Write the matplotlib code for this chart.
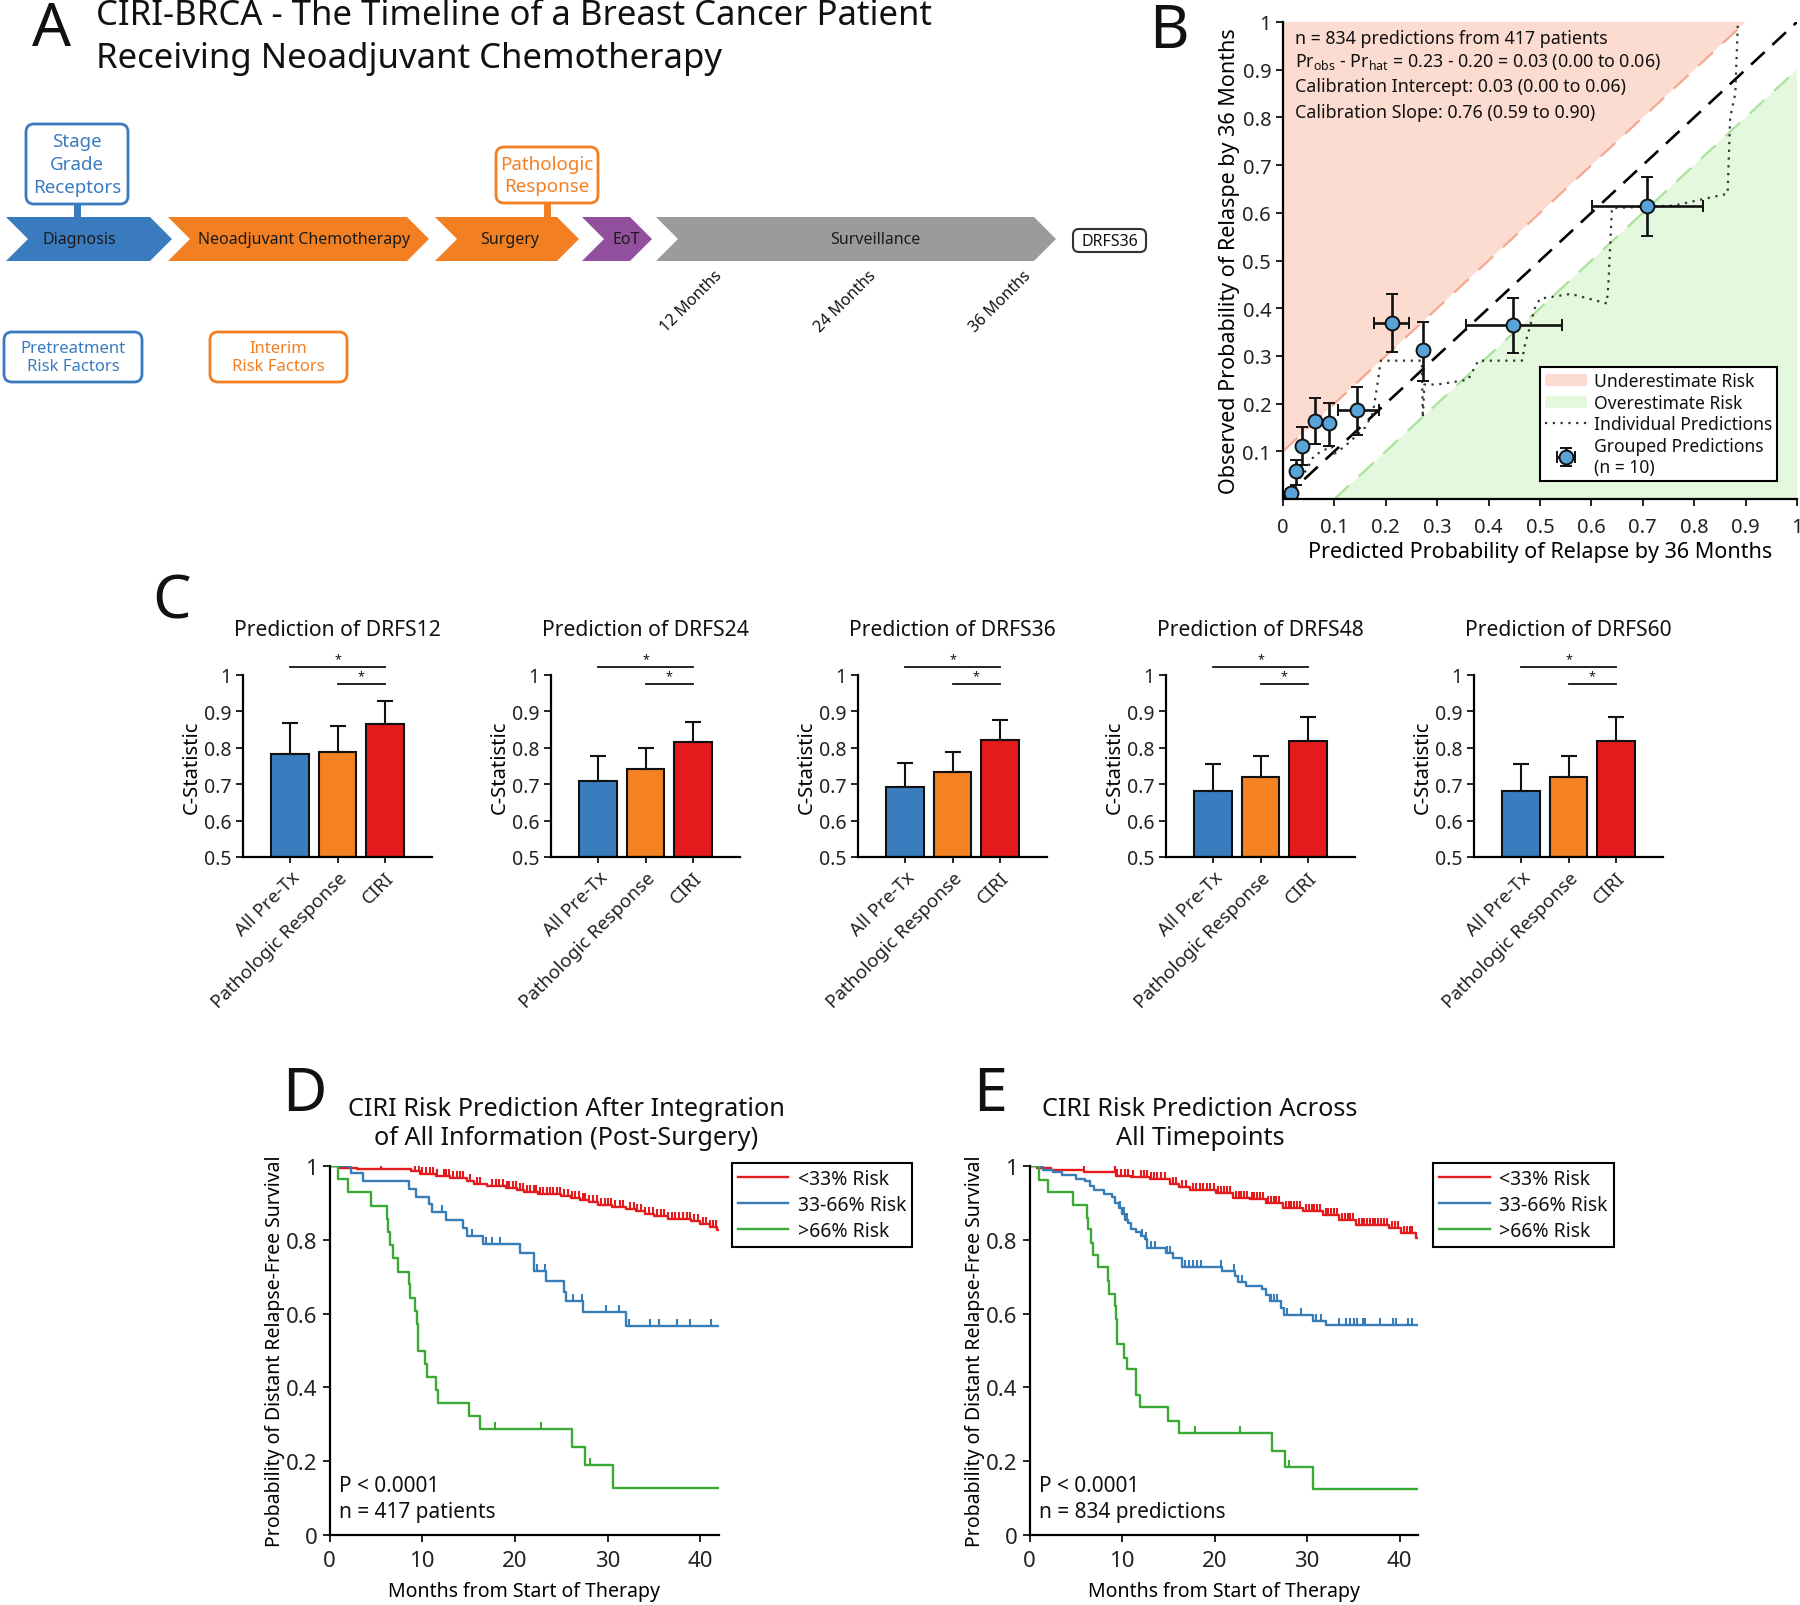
import numpy as np
import matplotlib.pyplot as plt
from matplotlib.patches import Polygon, FancyBboxPatch
from matplotlib.path import Path

plt.rcParams['font.family'] = ['Noto Sans', 'DejaVu Sans']
plt.rcParams['mathtext.fontset'] = 'custom'
plt.rcParams['mathtext.rm'] = 'Noto Sans'
plt.rcParams['axes.linewidth'] = 1.6
plt.rcParams['xtick.direction'] = 'out'
plt.rcParams['ytick.direction'] = 'out'
plt.rcParams['xtick.major.width'] = 1.4
plt.rcParams['ytick.major.width'] = 1.4
plt.rcParams['text.color'] = '#111111'

# ---------------- data ----------------
# panel A
stages = ['Diagnosis', 'Neoadjuvant Chemotherapy', 'Surgery', 'EoT', 'Surveillance']
stage_colors = ['#3a7bbf', '#f27f22', '#f27f22', '#924f9e', '#9b9b9b']
month_labels = ['12 Months', '24 Months', '36 Months']

# panel B
grp_x = [0.015, 0.026, 0.036, 0.062, 0.089, 0.144, 0.212, 0.272, 0.448, 0.709]
grp_y = [0.013, 0.058, 0.112, 0.164, 0.159, 0.186, 0.370, 0.312, 0.365, 0.614]
grp_x_lo = [0.012, 0.021, 0.032, 0.058, 0.085, 0.107, 0.178, 0.268, 0.357, 0.601]
grp_x_hi = [0.018, 0.031, 0.040, 0.066, 0.093, 0.187, 0.246, 0.276, 0.542, 0.817]
grp_y_lo = [0.004, 0.030, 0.071, 0.116, 0.112, 0.135, 0.308, 0.248, 0.306, 0.552]
grp_y_hi = [0.022, 0.082, 0.151, 0.211, 0.202, 0.235, 0.430, 0.372, 0.422, 0.675]
ind_x = [0.005, 0.02, 0.03, 0.045, 0.06, 0.075, 0.095, 0.10, 0.12, 0.14, 0.16, 0.175,
         0.185, 0.19, 0.27, 0.272, 0.275, 0.30, 0.36, 0.38, 0.465, 0.47, 0.49, 0.50,
         0.56, 0.63, 0.633, 0.64, 0.76, 0.865, 0.87, 0.88, 0.885]
ind_y = [0.005, 0.02, 0.04, 0.06, 0.09, 0.10, 0.11, 0.095, 0.11, 0.13, 0.15, 0.18,
         0.25, 0.29, 0.29, 0.17, 0.24, 0.24, 0.25, 0.29, 0.29, 0.32, 0.40, 0.42,
         0.43, 0.41, 0.45, 0.61, 0.615, 0.64, 0.80, 0.85, 1.0]
calib_text = ['n = 834 predictions from 417 patients',
              r'Pr$_{\mathrm{obs}}$ - Pr$_{\mathrm{hat}}$ = 0.23 - 0.20 = 0.03 (0.00 to 0.06)',
              'Calibration Intercept: 0.03 (0.00 to 0.06)',
              'Calibration Slope: 0.76 (0.59 to 0.90)']

# panel C
models = ['All Pre-Tx', 'Pathologic Response', 'CIRI']
model_colors = ['#3a7dbf', '#f58220', '#e41a1c']
horizons = ['DRFS12', 'DRFS24', 'DRFS36', 'DRFS48', 'DRFS60']
c_stat = [[0.783, 0.789, 0.865],
          [0.708, 0.742, 0.816],
          [0.692, 0.733, 0.821],
          [0.680, 0.721, 0.818],
          [0.680, 0.721, 0.818]]
c_upper = [[0.868, 0.860, 0.929],
           [0.777, 0.799, 0.871],
           [0.758, 0.789, 0.877],
           [0.756, 0.777, 0.884],
           [0.756, 0.777, 0.884]]

# panels D / E  (Kaplan-Meier: event times, survival after event, censor times)
risk_groups = ['<33% Risk', '33-66% Risk', '>66% Risk']
risk_colors = ['#e41a1c', '#377eb8', '#3aaa35']

d_red_t = [0, 1.0, 3.0, 8.8, 9.8, 11.5, 13.0, 14.8, 15.6, 17.0, 19.0, 20.2, 21.0, 22.5,
           25.0, 26.0, 27.0, 28.0, 29.0, 30.5, 32.0, 33.0, 34.0, 35.0, 36.5, 39.0, 40.0, 41.0, 41.8]
d_red_s = [1.0, 0.995, 0.991, 0.986, 0.979, 0.974, 0.968, 0.960, 0.950, 0.945, 0.940, 0.934,
           0.929, 0.925, 0.920, 0.914, 0.909, 0.902, 0.895, 0.890, 0.884, 0.877, 0.871, 0.864,
           0.857, 0.850, 0.844, 0.835, 0.826]
d_red_c = [1.2, 5.5, 9.2, 9.6, 10.0, 10.4, 10.8, 11.2, 11.6, 12.3, 12.6, 12.9, 13.3, 13.7,
           14.1, 14.4, 15.2, 15.9, 16.2, 17.5, 17.9, 18.3, 18.7, 19.1, 19.4, 19.8, 20.1, 20.5,
           20.9, 21.3, 21.6, 22.0, 22.3, 22.7, 23.0, 23.4, 23.8, 24.1, 24.5, 24.9, 25.3, 25.7,
           26.2, 26.5, 26.9, 27.3, 27.6, 28.0, 28.4, 28.8, 29.3, 29.7, 30.0, 30.4, 30.8, 31.3,
           31.7, 32.4, 32.8, 33.2, 33.6, 34.0, 34.4, 34.9, 35.3, 35.7, 36.1, 36.5, 36.9, 37.3,
           37.7, 38.1, 38.5, 38.9, 39.3, 39.7, 40.3, 40.6, 41.0, 41.3, 41.7]
d_blue_t = [0, 2.3, 3.6, 8.6, 9.3, 10.7, 11.0, 12.6, 14.4, 14.8, 16.5, 20.5, 22.0, 22.1,
            23.3, 25.3, 25.5, 27.3, 32.0]
d_blue_s = [1.0, 0.981, 0.958, 0.938, 0.916, 0.897, 0.875, 0.854, 0.832, 0.810, 0.789, 0.764,
            0.735, 0.715, 0.687, 0.658, 0.633, 0.603, 0.566]
d_blue_c = [12.1, 15.4, 16.9, 17.5, 18.4, 22.4, 23.2, 26.3, 27.2, 29.8, 31.2, 32.3, 34.6,
            35.5, 37.5, 38.9, 41.1]
d_green_t = [0, 0.9, 2.0, 4.5, 6.2, 6.3, 6.5, 6.9, 7.4, 8.6, 8.7, 9.2, 9.4, 9.5, 10.3, 10.5,
             11.5, 11.7, 15.0, 16.2, 26.2, 27.6, 30.6]
d_green_s = [1.0, 0.964, 0.929, 0.891, 0.857, 0.821, 0.785, 0.751, 0.714, 0.679, 0.643, 0.607,
             0.571, 0.500, 0.464, 0.429, 0.393, 0.357, 0.323, 0.286, 0.238, 0.191, 0.127]
d_green_c = [17.8, 22.8, 28.1]

e_red_t = [0, 0.8, 2.3, 5.9, 9.3, 11.0, 13.0, 15.2, 16.2, 17.4, 20.2, 22.0, 23.8, 25.6,
           27.4, 29.6, 31.7, 33.5, 35.3, 38.9, 40.2, 41.8]
e_red_s = [1.0, 0.995, 0.989, 0.985, 0.973, 0.969, 0.964, 0.950, 0.943, 0.935, 0.928, 0.914,
           0.910, 0.901, 0.887, 0.878, 0.866, 0.853, 0.839, 0.833, 0.819, 0.806]
e_red_c = [5.9, 9.2, 9.5, 9.9, 10.3, 10.6, 11.2, 12.0, 12.4, 12.7, 13.1, 13.5, 13.8, 14.2,
           14.6, 15.5, 15.8, 16.5, 16.9, 17.7, 18.0, 18.4, 18.8, 19.2, 19.5, 19.9, 20.4, 20.7,
           21.0, 21.3, 21.7, 22.3, 22.6, 22.9, 23.2, 23.5, 24.0, 24.3, 24.6, 24.9, 25.2, 25.8,
           26.1, 26.4, 26.7, 27.0, 27.7, 28.0, 28.3, 28.6, 28.9, 29.2, 29.9, 30.2, 30.5, 30.8,
           31.1, 31.4, 32.0, 32.3, 32.6, 32.9, 33.2, 33.8, 34.1, 34.4, 34.7, 35.0, 35.6, 35.9,
           36.2, 36.5, 36.8, 37.1, 37.4, 37.7, 38.0, 38.3, 38.6, 39.2, 39.5, 39.8, 40.5, 40.8,
           41.1, 41.4]
e_blue_t = [0, 1.5, 2.5, 3.5, 5.0, 6.0, 6.5, 7.0, 8.0, 8.9, 9.2, 9.7, 10.0, 10.3, 10.6,
            11.0, 11.5, 12.0, 12.5, 12.7, 14.8, 15.5, 16.5, 20.8, 22.2, 22.5, 23.4, 25.1,
            25.6, 26.0, 27.2, 27.5, 30.7, 32.0]
e_blue_s = [1.0, 0.990, 0.985, 0.975, 0.965, 0.959, 0.945, 0.935, 0.923, 0.915, 0.900, 0.887,
            0.870, 0.855, 0.845, 0.830, 0.820, 0.810, 0.801, 0.779, 0.765, 0.752, 0.727, 0.716,
            0.702, 0.686, 0.675, 0.666, 0.651, 0.634, 0.616, 0.596, 0.580, 0.569]
e_blue_c = [9.8, 10.2, 10.5, 12.2, 12.6, 13.1, 13.6, 14.9, 15.2, 16.8, 17.2, 17.7, 18.1, 18.5,
            20.7, 22.1, 22.5, 23.0, 26.1, 26.4, 26.8, 27.8, 29.3, 31.0, 31.5, 33.5, 34.2, 34.6,
            35.1, 35.4, 36.1, 36.3, 37.9, 39.3, 39.6, 40.9, 41.4]
e_green_t = [0, 1.0, 2.0, 4.7, 6.2, 6.3, 6.6, 6.9, 7.4, 8.5, 8.6, 9.2, 9.4, 9.45, 10.2, 10.5,
             11.5, 11.9, 15.0, 16.2, 26.2, 27.6, 30.6]
e_green_s = [1.0, 0.962, 0.930, 0.894, 0.858, 0.829, 0.792, 0.758, 0.725, 0.689, 0.654, 0.621,
             0.585, 0.517, 0.481, 0.449, 0.379, 0.346, 0.310, 0.276, 0.228, 0.183, 0.125]
e_green_c = [17.9, 22.8, 28.1]

# ---------------- figure ----------------
W, H = 1800, 1606
fig = plt.figure(figsize=(W / 100, H / 100), dpi=100)


def px_axes(l, t, r, b):
    return fig.add_axes([l / W, 1 - b / H, (r - l) / W, (b - t) / H])


def matlab_style(ax, fs=14):
    for s in ['top', 'right']:
        ax.spines[s].set_visible(False)
    ax.tick_params(labelsize=fs, length=5, colors='#222222')


# overlay for panel A and letters
ax0 = fig.add_axes([0, 0, 1, 1])
ax0.set_xlim(0, W)
ax0.set_ylim(H, 0)
ax0.axis('off')

for letter, (lx, ly) in zip('ABCDE', [(52, 30), (1169, 32), (172, 603), (304, 1096), (990, 1096)]):
    ax0.text(lx, ly, letter, fontsize=44, ha='center', va='center')
ax0.text(96, 16, 'CIRI-BRCA - The Timeline of a Breast Cancer Patient', fontsize=25, va='center')
ax0.text(96, 59, 'Receiving Neoadjuvant Chemotherapy', fontsize=25, va='center')

# chevrons
seg_x = [(6, 172), (168, 429), (435, 579), (582, 652), (656, 1056)]
seg_text_x = [79, 304, 510, 626, 875]
top, bot, d = 218, 262, 22
mid = (top + bot) / 2
for name, col, (x0, x1), tx in zip(stages, stage_colors, seg_x, seg_text_x):
    pts = [(x0, top), (x1 - d, top), (x1, mid), (x1 - d, bot), (x0, bot), (x0 + d, mid)]
    ax0.add_patch(Polygon(pts, closed=True, fc=col, ec='none'))
    ax0.text(tx, mid, name, fontsize=11.5, ha='center', va='center', color='#1a1a1a')

ax0.add_patch(FancyBboxPatch((1073, 230), 73, 23, boxstyle='round,pad=0,rounding_size=6',
                             fc='white', ec='#333333', lw=1.5))
ax0.text(1109.5, 241.5, 'DRFS36', fontsize=11.5, ha='center', va='center')

blue_c, orange_c = '#3a7bbf', '#f27f22'
callouts = [((26, 125, 128, 205), 'Stage\nGrade\nReceptors', blue_c, 77),
            ((496, 148, 598, 204), 'Pathologic\nResponse', orange_c, 547),
            ((4, 333, 142, 383), 'Pretreatment\nRisk Factors', blue_c, None),
            ((210, 333, 347, 383), 'Interim\nRisk Factors', orange_c, None)]
for (l, t, r, b), txt, col, stem in callouts:
    ax0.add_patch(FancyBboxPatch((l, t), r - l, b - t, boxstyle='round,pad=0,rounding_size=8',
                                 fc='white', ec=col, lw=2))
    fs = 13.5 if stem else 12
    ax0.text((l + r) / 2, (t + b) / 2, txt, fontsize=fs, ha='center', va='center', color=col,
             linespacing=1.35 if stem else 1.2)
    if stem:
        ax0.plot([stem, stem], [b, top], color=col, lw=5, solid_capstyle='butt')

for lab, mx in zip(month_labels, [691, 845, 1000]):
    ax0.text(mx, 302, lab, fontsize=11.5, rotation=45, ha='center', va='center')

# ---------------- panel B ----------------
axB = px_axes(1283, 23, 1797, 500)
matlab_style(axB, 14.5)
axB.tick_params(axis='x', pad=8)
axB.fill([0, 0.9, 0], [0.1, 1, 1], color='#fcdcd1', lw=0, label='Underestimate Risk')
axB.fill([0.1, 1, 1], [0, 0.9, 0], color='#e3f8dc', lw=0, label='Overestimate Risk')
axB.plot([0, 0.9], [0.1, 1], color='#f5a88f', lw=1.6, dashes=(9, 6))
axB.plot([0.1, 1], [0, 0.9], color='#a9e39b', lw=1.6, dashes=(9, 6))
axB.plot([0, 1], [0, 1], color='k', lw=1.9, dashes=(7, 4))
axB.plot(ind_x, ind_y, color='#333333', lw=1.6, ls=(0, (1, 2.5)), label='Individual Predictions')
gx, gy = np.array(grp_x), np.array(grp_y)
axB.errorbar(gx, gy, xerr=[gx - np.array(grp_x_lo), np.array(grp_x_hi) - gx],
             yerr=[gy - np.array(grp_y_lo), np.array(grp_y_hi) - gy],
             fmt='o', ms=10, mfc='#58a3d8', mec='#111111', mew=1.4, ecolor='#111111',
             elinewidth=1.9, capsize=4, capthick=1.9, label='Grouped Predictions\n(n = 10)')
axB.set_xlim(0, 1)
axB.set_ylim(0, 1)
axB.set_xticks(np.round(np.arange(0, 1.01, 0.1), 1))
axB.set_xticklabels(['0'] + ['%.1f' % v for v in np.arange(0.1, 0.95, 0.1)] + ['1'])
axB.set_yticks(np.round(np.arange(0.1, 1.01, 0.1), 1))
axB.set_yticklabels(['%.1f' % v for v in np.arange(0.1, 0.95, 0.1)] + ['1'])
axB.set_xlabel('Predicted Probability of Relapse by 36 Months', fontsize=15.5, labelpad=3)
axB.set_ylabel('Observed Probability of Relaspe by 36 Months', fontsize=15.5, labelpad=2)
for txt, yy in zip(calib_text, [0.966, 0.919, 0.865, 0.811]):
    axB.text(0.024, yy, txt, fontsize=12.8, va='center', ha='left')
legB = axB.legend(loc='lower right', bbox_to_anchor=(0.962, 0.038), borderaxespad=0,
                  fontsize=12.6, fancybox=False, framealpha=1, edgecolor='k', handlelength=2.4,
                  borderpad=0.3, labelspacing=0.2, handletextpad=0.4)
legB.get_frame().set_linewidth(1.5)

# ---------------- panel C ----------------
c_lefts = [243, 551, 858, 1166, 1474]
for hz, vals, ups, l in zip(horizons, c_stat, c_upper, c_lefts):
    ax = px_axes(l, 676, l + 189, 858)
    matlab_style(ax, 14)
    pos = np.arange(1, 4)
    v = np.array(vals)
    ax.bar(pos, v - 0.5, bottom=0.5, width=0.8, color=model_colors, edgecolor='#111111', lw=1.5,
           zorder=2)
    ax.errorbar(pos, v, yerr=[np.zeros(3), np.array(ups) - v], fmt='none', ecolor='#111111',
                elinewidth=1.5, capsize=6, capthick=1.5, zorder=3)
    ax.set_xlim(0, 4)
    ax.set_ylim(0.5, 1)
    ax.set_yticks([0.5, 0.6, 0.7, 0.8, 0.9, 1.0])
    ax.set_yticklabels(['0.5', '0.6', '0.7', '0.8', '0.9', '1'])
    ax.set_xticks(pos)
    ax.set_xticklabels(models, rotation=45, ha='right', rotation_mode='anchor', fontsize=13.5)
    ax.tick_params(axis='x', length=4, pad=4)
    ax.set_ylabel('C-Statistic', fontsize=14.5, labelpad=1)
    ax.set_title('Prediction of ' + hz, fontsize=15.2, pad=29)
    ax.plot([1, 3], [1.022, 1.022], color='#111111', lw=1.3, clip_on=False)
    ax.plot([2, 3], [0.975, 0.975], color='#111111', lw=1.3, clip_on=False)
    ax.text(2, 1.027, '*', fontsize=9, ha='center', va='bottom')
    ax.text(2.5, 0.98, '*', fontsize=9, ha='center', va='bottom')

# ---------------- panels D, E ----------------
tick_mark = Path([(0, 0), (0, 1)], [Path.MOVETO, Path.LINETO])


def km(ax, t, s, c, col, label):
    tt = list(t) + [42]
    ss = list(s) + [s[-1]]
    ax.step(tt, ss, where='post', color=col, lw=1.7, label=label)
    idx = np.searchsorted(np.array(t), np.array(c), side='right') - 1
    ax.plot(c, np.array(s)[idx], ls='none', marker=tick_mark, ms=10, mew=1.5, color=col)


km_sets = [
    ((329.5, 719), [(d_red_t, d_red_s, d_red_c), (d_blue_t, d_blue_s, d_blue_c),
                    (d_green_t, d_green_s, d_green_c)], 'n = 417 patients',
     'CIRI Risk Prediction After Integration\nof All Information (Post-Surgery)', 566, 1.033),
    ((1029.5, 1418), [(e_red_t, e_red_s, e_red_c), (e_blue_t, e_blue_s, e_blue_c),
                      (e_green_t, e_green_s, e_green_c)], 'n = 834 predictions',
     'CIRI Risk Prediction Across\nAll Timepoints', 1200, 1.039),
]
for (l, r), curves, ntxt, title, tx, lx in km_sets:
    ax = px_axes(l, 1167, r, 1536)
    matlab_style(ax, 16)
    ax.tick_params(axis='x', pad=6)
    for (t, s, c), col, lab in zip(curves, risk_colors, risk_groups):
        km(ax, t, s, c, col, lab)
    ax.set_xlim(0, 42)
    ax.set_ylim(0, 1)
    ax.set_xticks([0, 10, 20, 30, 40])
    ax.set_yticks([0, 0.2, 0.4, 0.6, 0.8, 1.0])
    ax.set_yticklabels(['0', '0.2', '0.4', '0.6', '0.8', '1'])
    ax.set_xlabel('Months from Start of Therapy', fontsize=14, labelpad=7)
    ax.set_ylabel('Probability of Distant Relapse-Free Survival', fontsize=14, labelpad=1)
    ax.text(1.0, 0.133, 'P < 0.0001', fontsize=15, va='center')
    ax.text(1.0, 0.063, ntxt, fontsize=15, va='center')
    leg = ax.legend(loc='upper left', bbox_to_anchor=(lx, 1.007), borderaxespad=0,
                    fontsize=14, fancybox=False, framealpha=1, edgecolor='k',
                    handlelength=2.6, borderpad=0.3, labelspacing=0.3, handletextpad=0.5)
    leg.get_frame().set_linewidth(1.5)
    fig.text(tx / W, 1 - 1124 / H, title, fontsize=18.2, ha='center', va='center',
             linespacing=1.25)

fig.savefig('out.png', dpi=100)
